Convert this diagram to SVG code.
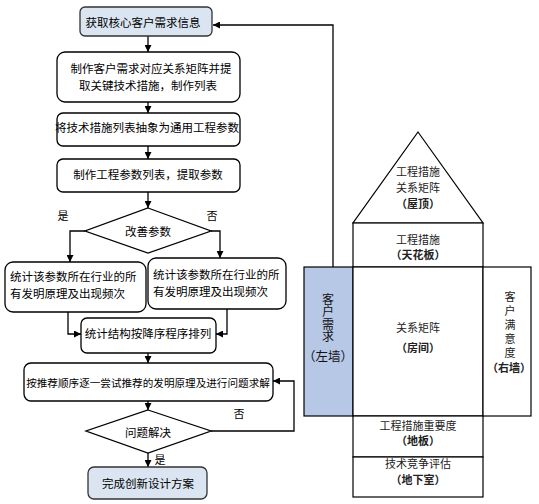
<svg xmlns="http://www.w3.org/2000/svg" width="539" height="504" viewBox="0 0 539 504">
<defs>
<marker id="ah" viewBox="0 0 10 10" refX="10" refY="5" markerWidth="7" markerHeight="7" markerUnits="userSpaceOnUse" orient="auto"><path d="M0,0 L10,5 L0,10 z" fill="#000"/></marker>
<style>
.box{fill:#fff;stroke:#000;stroke-width:1.3}
.blue{fill:#dbe5f1;stroke:#333;stroke-width:1.3}
.t{font-family:"Noto Sans CJK SC","Noto Sans",sans-serif;font-size:11.5px;fill:#000;dominant-baseline:central}
.h{font-family:"Noto Sans CJK SC","Noto Sans",sans-serif;font-size:11px;fill:#222;dominant-baseline:central;text-anchor:middle}
.v{font-family:"Noto Sans CJK SC","Noto Sans",sans-serif;writing-mode:vertical-rl;text-anchor:start}
.hb{font-weight:bold}
.c{fill:none;stroke:#000;stroke-width:1.3}
.hs{fill:#fff;stroke:#000;stroke-width:1.2}
</style>
</defs>
<rect width="539" height="504" fill="#fff"/>
<g id="connectors">
<path class="c" d="M148,36 V52" marker-end="url(#ah)"/>
<path class="c" d="M148,102 V113" marker-end="url(#ah)"/>
<path class="c" d="M148,146 V159" marker-end="url(#ah)"/>
<path class="c" d="M148,192 V208" marker-end="url(#ah)"/>
<path class="c" d="M85,231 H70 V262" marker-end="url(#ah)"/>
<path class="c" d="M211,231 H220 V258" marker-end="url(#ah)"/>
<path class="c" d="M68,312 V334 H81" marker-end="url(#ah)"/>
<path class="c" d="M227,309 V334 H216" marker-end="url(#ah)"/>
<path class="c" d="M148,353 V363" marker-end="url(#ah)"/>
<path class="c" d="M148,401 V410" marker-end="url(#ah)"/>
<path class="c" d="M211,431 H294 V381 H273" marker-end="url(#ah)"/>
<path class="c" d="M148,453 V467" marker-end="url(#ah)"/>
<path class="c" d="M333,267 V25 H213" marker-end="url(#ah)"/>
<text class="t" x="63" y="215" text-anchor="middle" style="font-size:11px">是</text>
<text class="t" x="212" y="215" text-anchor="middle" style="font-size:11px">否</text>
<text class="t" x="239" y="413" text-anchor="middle" style="font-size:11px">否</text>
<text class="t" x="160" y="459" text-anchor="middle" style="font-size:11px">是</text>
</g>
<g id="n1"><rect class="blue" x="80" y="7" width="132" height="29" rx="5"/><text class="t" x="143" y="22" text-anchor="middle">获取核心客户需求信息</text></g>
<g id="n2"><rect class="box" x="57" y="52" width="183" height="50" rx="8"/><text class="t" x="151" y="68" text-anchor="middle">制作客户需求对应关系矩阵并提</text><text class="t" x="148" y="85" text-anchor="middle">取关键技术措施，制作列表</text></g>
<g id="n3"><rect class="box" x="57" y="113" width="183" height="33" rx="6"/><text class="t" x="147" y="127" text-anchor="middle">将技术措施列表抽象为通用工程参数</text></g>
<g id="n4"><rect class="box" x="57" y="159" width="183" height="33" rx="6"/><text class="t" x="148" y="174" text-anchor="middle">制作工程参数列表，提取参数</text></g>
<g id="d1"><polygon class="box" points="148,208 211,231 148,253 85,231"/><text class="t" x="148" y="231" text-anchor="middle">改善参数</text></g>
<g id="n5"><rect class="box" x="5" y="262" width="141" height="50" rx="8"/><text class="t" x="10" y="276">统计该参数所在行业的所</text><text class="t" x="10" y="293">有发明原理及出现频次</text></g>
<g id="n6"><rect class="box" x="148" y="258" width="138" height="51" rx="8"/><text class="t" x="153" y="274">统计该参数所在行业的所</text><text class="t" x="153" y="291">有发明原理及出现频次</text></g>
<g id="n7"><rect class="box" x="81" y="318" width="135" height="35" rx="6"/><text class="t" x="148" y="333" text-anchor="middle">统计结构按降序程序排列</text></g>
<g id="n8"><rect class="box" x="24" y="363" width="249" height="38" rx="7"/><text class="t" x="148" y="382" text-anchor="middle" style="font-size:10.6px">按推荐顺序逐一尝试推荐的发明原理及进行问题求解</text></g>
<g id="d2"><polygon class="box" points="148,410 211,431 148,453 86,431"/><text class="t" x="148" y="432" text-anchor="middle">问题解决</text></g>
<g id="n9"><rect class="blue" x="88" y="467" width="119" height="32" rx="6"/><text class="t" x="148" y="483" text-anchor="middle">完成创新设计方案</text></g>
<g id="house">
<polygon class="hs" points="418,132 483,223 353,223"/>
<text class="h" x="418" y="171">工程措施</text><text class="h" x="418" y="187">关系矩阵</text><text class="h hb" x="418" y="203">（屋顶）</text>
<rect class="hs" x="353" y="223" width="130" height="44"/>
<text class="h" x="418" y="239">工程措施</text><text class="h hb" x="418" y="254">（天花板）</text>
<rect x="304" y="267" width="49" height="149" fill="#b7c8e6" stroke="#000" stroke-width="1.2"/>
<text class="v" x="328" y="293" style="font-size:12px;letter-spacing:0.5px;fill:#111">客户需求</text>
<text class="h" x="328" y="355" style="font-size:12.5px;fill:#111">（左墙）</text>
<rect class="hs" x="353" y="267" width="130" height="149"/>
<text class="h" x="418" y="327">关系矩阵</text><text class="h hb" x="418" y="347">（房间）</text>
<rect class="hs" x="483" y="267" width="48" height="149"/>
<text class="v" x="510" y="291.5" style="font-size:11px;letter-spacing:3px;fill:#222">客户满意度</text>
<text class="h hb" x="509" y="367">（右墙）</text>
<rect class="hs" x="353" y="416" width="130" height="41"/>
<text class="h" x="418" y="425">工程措施重要度</text><text class="h hb" x="418" y="440">（地板）</text>
<rect class="hs" x="353" y="457" width="130" height="40"/>
<text class="h" x="418" y="463">技术竞争评估</text><text class="h hb" x="418" y="479">（地下室）</text>
</g>
</svg>
